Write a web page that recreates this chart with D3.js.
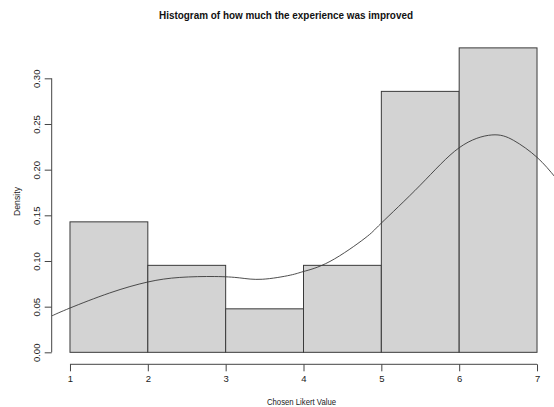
<!DOCTYPE html>
<html>
<head>
<meta charset="utf-8">
<script src="https://cdn.jsdelivr.net/npm/d3@7"></script>
<style>
  html, body { margin: 0; padding: 0; background: #fff; }
  svg { display: block; font-family: "Liberation Sans", Arial, Helvetica, sans-serif; }
</style>
</head>
<body>
<svg id="chart" width="554" height="407"></svg>
<script>
// Histogram bins (Likert scale breaks) and counts per bin
const breaks = [1, 2, 3, 4, 5, 6, 7];
const counts = [3, 2, 1, 2, 6, 7];

// Kernel density estimate, sampled along the x range
const densityX = [0.77, 1.0, 1.51, 2.0, 2.41, 2.86, 3.18, 3.47, 3.83, 4.0, 4.34, 4.79, 5.0, 5.5, 6.0, 6.42, 6.7, 7.0, 7.24];
const densityY = [0.040, 0.0485, 0.065, 0.077, 0.082, 0.083, 0.0815, 0.080, 0.0845, 0.0885, 0.0995, 0.125, 0.1415, 0.183, 0.224, 0.238, 0.232, 0.2135, 0.191];

// Axis tick values
const xTicks = [1, 2, 3, 4, 5, 6, 7];
const yTicks = [0.00, 0.05, 0.10, 0.15, 0.20, 0.25, 0.30];

const titleText = "Histogram of how much the experience was improved";
const xLabel = "Chosen Likert Value";
const yLabel = "Density";

const svg = d3.select("#chart");

const n = d3.sum(counts);
const bins = counts.map((c, i) => ({
  x0: breaks[i],
  x1: breaks[i + 1],
  density: c / (n * (breaks[i + 1] - breaks[i]))
}));

// Plot region with 4% padding on each side of the data range
const x = d3.scaleLinear().domain([0.76, 7.24]).range([51.3, 555.7]);
const y = d3.scaleLinear().domain([-0.01333, 0.34667]).range([364.5, 35.7]);

svg.append("defs").append("clipPath").attr("id", "plotClip")
  .append("rect")
  .attr("x", x.range()[0]).attr("y", y.range()[1])
  .attr("width", x.range()[1] - x.range()[0])
  .attr("height", y.range()[0] - y.range()[1]);

// Bars
svg.append("g").selectAll("rect").data(bins).join("rect")
  .attr("x", d => x(d.x0))
  .attr("y", d => y(d.density))
  .attr("width", d => x(d.x1) - x(d.x0))
  .attr("height", d => y(0) - y(d.density))
  .attr("fill", "#d3d3d3")
  .attr("stroke", "#3a3a3a")
  .attr("stroke-width", 1);

// Density curve
const line = d3.line()
  .x((d, i) => x(densityX[i]))
  .y(d => y(d))
  .curve(d3.curveNatural);
svg.append("path")
  .attr("clip-path", "url(#plotClip)")
  .attr("d", line(densityY))
  .attr("fill", "none")
  .attr("stroke", "#3a3a3a")
  .attr("stroke-width", 0.9);

// Y axis
const yAxis = d3.axisLeft(y).tickValues(yTicks).tickFormat(d3.format(".2f")).tickSize(7).tickSizeOuter(0);
const gy = svg.append("g").attr("transform", `translate(${x.range()[0] + 0.4},0)`).call(yAxis);
gy.select(".domain").remove();
gy.append("line")
  .attr("y1", y(yTicks[0])).attr("y2", y(yTicks[yTicks.length - 1]))
  .attr("stroke", "#444");
gy.selectAll(".tick line").attr("stroke", "#444");
gy.selectAll(".tick text")
  .attr("transform", "rotate(-90)")
  .attr("x", 0).attr("y", -12).attr("dy", null)
  .attr("text-anchor", "middle")
  .attr("font-family", null)
  .attr("font-size", 9.5)
  .attr("fill", "#222");

// X axis
const xAxis = d3.axisBottom(x).tickValues(xTicks).tickFormat(d3.format("d")).tickSize(7).tickSizeOuter(0);
const gx = svg.append("g").attr("transform", "translate(0,364.3)").call(xAxis);
gx.select(".domain").remove();
gx.append("line")
  .attr("x1", x(xTicks[0])).attr("x2", x(xTicks[xTicks.length - 1]))
  .attr("stroke", "#444");
gx.selectAll(".tick line").attr("stroke", "#444");
gx.selectAll(".tick text")
  .attr("y", 11).attr("dy", "0.71em")
  .attr("font-family", null)
  .attr("font-size", 9.5)
  .attr("fill", "#222");

// Title and axis labels
svg.append("text")
  .attr("x", 286).attr("y", 19)
  .attr("text-anchor", "middle")
  .attr("font-weight", "bold")
  .attr("font-size", 11)
  .attr("textLength", 254).attr("lengthAdjust", "spacingAndGlyphs")
  .attr("fill", "#111")
  .text(titleText);

svg.append("text")
  .attr("x", 301.5).attr("y", 405)
  .attr("text-anchor", "middle")
  .attr("font-size", 9.5)
  .attr("textLength", 69).attr("lengthAdjust", "spacingAndGlyphs")
  .attr("fill", "#222")
  .text(xLabel);

svg.append("text")
  .attr("transform", "translate(20,201.5) rotate(-90)")
  .attr("text-anchor", "middle")
  .attr("font-size", 9.5)
  .attr("textLength", 29).attr("lengthAdjust", "spacingAndGlyphs")
  .attr("fill", "#222")
  .text(yLabel);
</script>
</body>
</html>
